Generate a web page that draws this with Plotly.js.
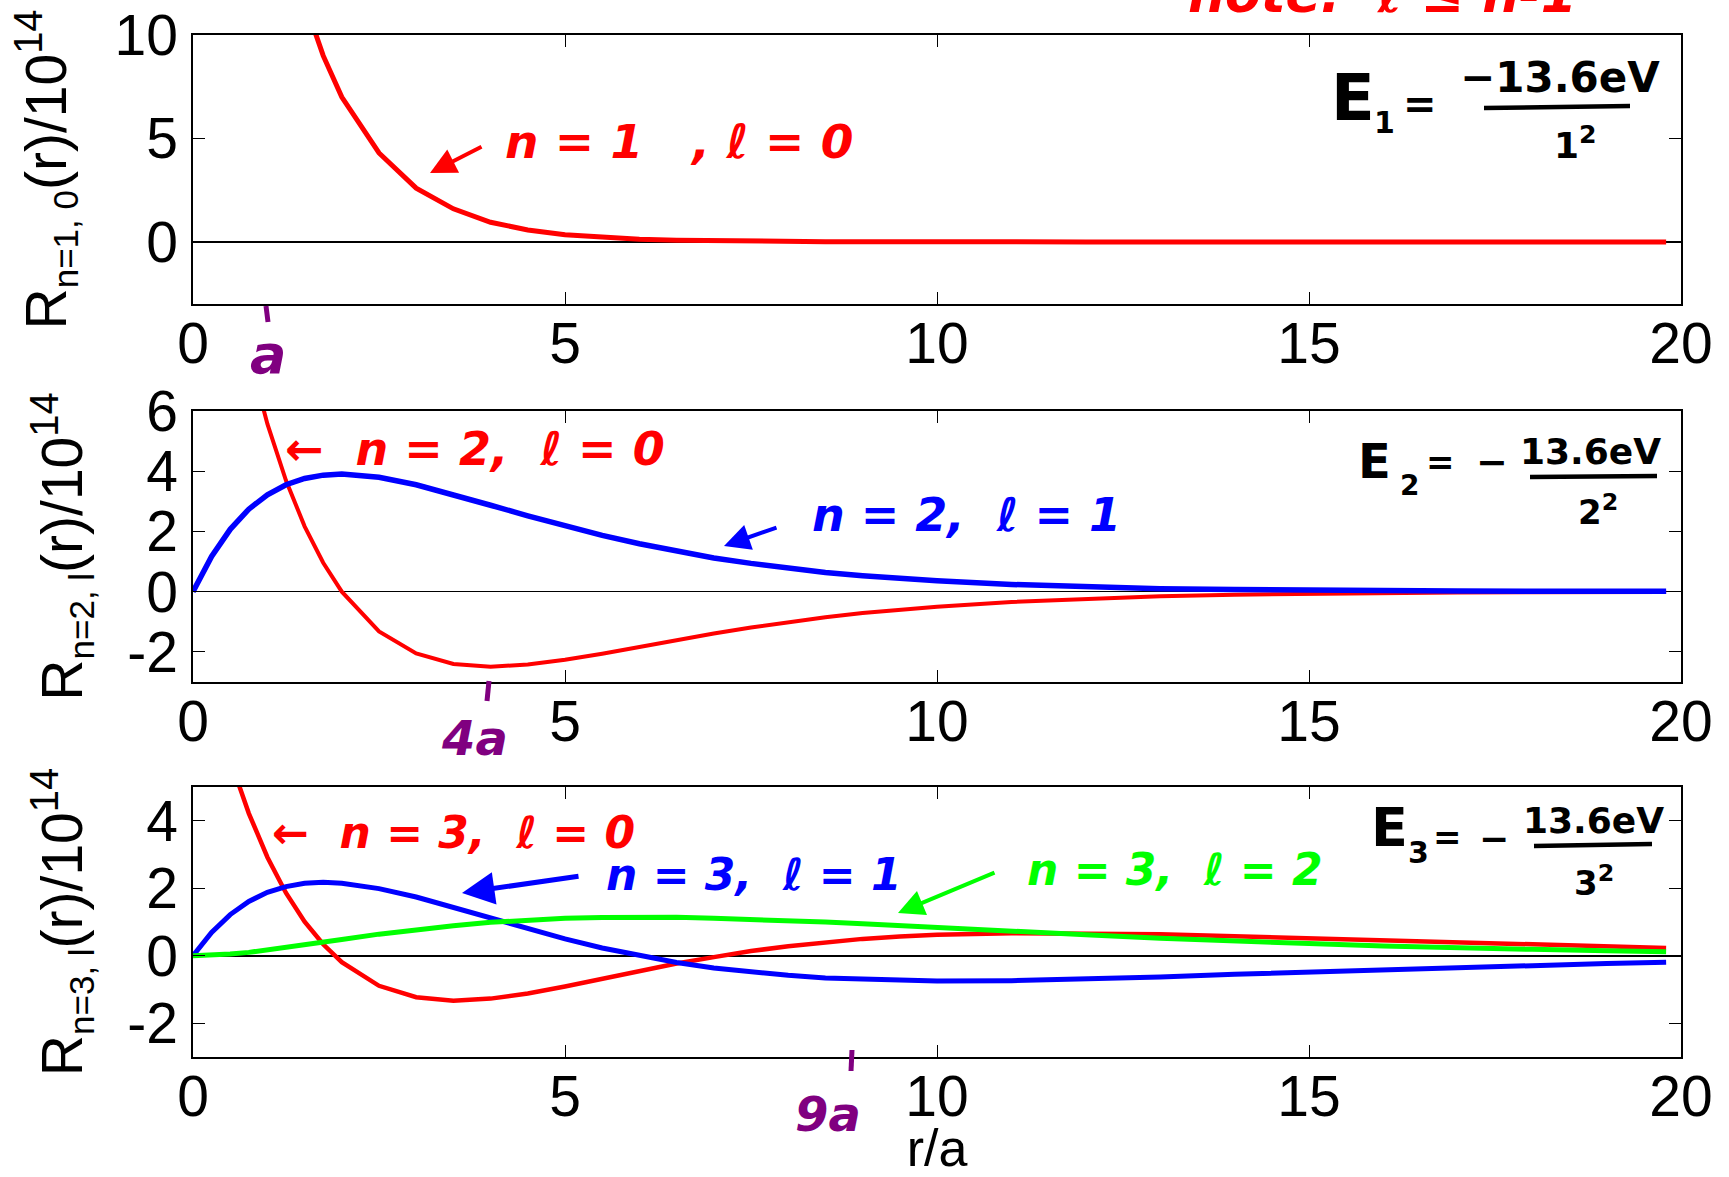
<!DOCTYPE html>
<html>
<head>
<meta charset="utf-8">
<script src="https://cdn.plot.ly/plotly-3.0.1.min.js"></script>
<style>html,body{margin:0;padding:0;background:#fff;}#chart{width:1729px;height:1177px;}</style>
</head>
<body>
<div id="chart"></div>
<script>
// ---- data ----
const r = [0, 0.25, 0.5, 0.75, 1, 1.25, 1.5, 1.75, 2, 2.5, 3, 3.5, 4, 4.5, 5, 5.5, 6, 6.5, 7, 7.5, 8, 8.5, 9, 9.5, 10, 11, 12, 13, 14, 15, 16, 17, 18, 19, 19.8];
const R10 = [52.0, 40.5, 31.5, 24.6, 19.1, 14.9, 11.6, 9.0, 7.0, 4.3, 2.6, 1.6, 0.95, 0.58, 0.35, 0.21, 0.13, 0.08, 0.05, 0.03, 0.02, 0.01, 0.01, 0, 0, 0, 0, 0, 0, 0, 0, 0, 0, 0, 0];
const R20 = [18.4, 14.2, 10.7, 7.9, 5.57, 3.69, 2.17, 0.96, 0, -1.32, -2.05, -2.40, -2.49, -2.42, -2.26, -2.06, -1.83, -1.60, -1.39, -1.19, -1.01, -0.85, -0.71, -0.60, -0.50, -0.34, -0.23, -0.15, -0.10, -0.07, -0.04, -0.03, -0.02, -0.01, -0.01];
const R21 = [0, 1.17, 2.07, 2.74, 3.22, 3.55, 3.76, 3.87, 3.91, 3.80, 3.55, 3.23, 2.87, 2.52, 2.18, 1.87, 1.59, 1.34, 1.12, 0.94, 0.78, 0.64, 0.53, 0.44, 0.36, 0.24, 0.16, 0.10, 0.07, 0.04, 0.03, 0.02, 0.01, 0.01, 0.01];
const R30 = [10.0, 7.71, 5.80, 4.22, 2.92, 1.86, 1.01, 0.34, -0.19, -0.89, -1.23, -1.33, -1.27, -1.12, -0.91, -0.68, -0.45, -0.23, -0.04, 0.14, 0.28, 0.40, 0.50, 0.57, 0.62, 0.67, 0.67, 0.64, 0.58, 0.52, 0.45, 0.38, 0.32, 0.27, 0.23];
const R31 = [0, 0.69, 1.22, 1.61, 1.88, 2.05, 2.15, 2.18, 2.15, 1.99, 1.74, 1.43, 1.11, 0.79, 0.50, 0.23, 0, -0.20, -0.36, -0.48, -0.58, -0.66, -0.70, -0.73, -0.75, -0.74, -0.69, -0.63, -0.55, -0.48, -0.41, -0.34, -0.28, -0.23, -0.19];
const R32 = [0, 0.01, 0.05, 0.10, 0.17, 0.24, 0.32, 0.40, 0.48, 0.64, 0.78, 0.89, 0.99, 1.06, 1.11, 1.13, 1.14, 1.14, 1.11, 1.08, 1.04, 1.00, 0.95, 0.89, 0.84, 0.73, 0.62, 0.52, 0.43, 0.36, 0.29, 0.23, 0.19, 0.15, 0.12];

const xTicks = [0, 5, 10, 15, 20];
const xTickText = ['0', '5', '10', '15', '20'];
const y1Ticks = [0, 5, 10];
const y1TickText = ['0', '5', '10'];
const y2Ticks = [-2, 0, 2, 4, 6];
const y2TickText = ['-2', '0', '2', '4', '6'];
const y3Ticks = [-2, 0, 2, 4];
const y3TickText = ['-2', '0', '2', '4'];

const yTitles = ['R<sub><span style="font-size:35px">n=1, 0</span></sub>(r)/10<sup>14</sup>',
                 'R<sub><span style="font-size:35px">n=2, l</span></sub>(r)/10<sup>14</sup>',
                 'R<sub><span style="font-size:35px">n=3, l</span></sub>(r)/10<sup>14</sup>'];
const xTitle = 'r/a';

const noteText = 'note:  ℓ ≤ n-1';
const labels = {
  n10: 'n = 1   , ℓ = 0',
  n20: '←  n = 2,  ℓ = 0',
  n21: 'n = 2,  ℓ = 1',
  n30: '←  n = 3,  ℓ = 0',
  n31: 'n = 3,  ℓ = 1',
  n32: 'n = 3,  ℓ = 2'
};
const energyNum = ['−13.6eV', '13.6eV', '13.6eV'];
const energyDen = ['1<sup>2</sup>', '2<sup>2</sup>', '3<sup>2</sup>'];
const energySub = ['1', '2', '3'];
const radiusMarks = ['a', '4a', '9a'];

// ---- styling / layout ----
const W = 1729, H = 1177, ML = 193, MR = 48, PW = W - ML - MR;
const px = v => (v - ML) / PW;
const py = v => 1 - v / H;
const RED = '#ff0000', BLUE = '#0000ff', GREEN = '#00ff00', PURPLE = '#800080';
const FONT = 'Liberation Sans, Arial, Helvetica, sans-serif';
const HAND = 'DejaVu Sans, sans-serif';

const traces = [
  {x: r, y: R10, xaxis: 'x', yaxis: 'y', mode: 'lines', line: {color: RED, width: 5}},
  {x: r, y: R20, xaxis: 'x2', yaxis: 'y2', mode: 'lines', line: {color: RED, width: 4}},
  {x: r, y: R21, xaxis: 'x2', yaxis: 'y2', mode: 'lines', line: {color: BLUE, width: 5.5}},
  {x: r, y: R30, xaxis: 'x3', yaxis: 'y3', mode: 'lines', line: {color: RED, width: 4.5}},
  {x: r, y: R31, xaxis: 'x3', yaxis: 'y3', mode: 'lines', line: {color: BLUE, width: 5}},
  {x: r, y: R32, xaxis: 'x3', yaxis: 'y3', mode: 'lines', line: {color: GREEN, width: 5}}
];

const axBase = {
  showline: true, linecolor: 'black', linewidth: 1.6, mirror: 'ticks',
  ticks: 'inside', ticklen: 12, tickwidth: 1, tickcolor: 'black',
  showgrid: false, zeroline: false, fixedrange: true,
  tickfont: {family: FONT, size: 57, color: 'black'}
};
const xAx = (anchor, extra) => Object.assign({}, axBase, {
  anchor: anchor, domain: [0, 1], range: [0, 20], tickmode: 'array',
  tickvals: xTicks, ticktext: xTickText, ticklabelstandoff: -11
}, extra || {});
const yAx = (anchor, dom, rng, tv, tt, title, standoff) => Object.assign({}, axBase, {
  anchor: anchor, domain: dom, range: rng, tickmode: 'array', tickvals: tv, ticktext: tt,
  zeroline: true, zerolinecolor: 'black', zerolinewidth: 1.5, ticklabelstandoff: 2,
  title: {text: title, font: {family: FONT, size: 57, color: 'black'}, standoff: standoff}
});

const ann = [];
function txt(t, x, y, size, color, o) {
  o = o || {};
  ann.push({
    text: t, xref: 'paper', yref: 'paper', x: px(x), y: py(y),
    xanchor: o.xa || 'center', yanchor: o.ya || 'middle', showarrow: false,
    font: {family: HAND, size: size, color: color, weight: o.w || 'bold', style: o.s || 'normal'}
  });
}
function arrow(hx, hy, tx, ty, color, width) {
  ann.push({
    text: '', xref: 'paper', yref: 'paper', x: px(hx), y: py(hy),
    ax: tx - hx, ay: ty - hy, showarrow: true, arrowhead: 2, arrowsize: 1.3,
    arrowwidth: width, arrowcolor: color, standoff: 0, startstandoff: 0
  });
}

// top note (cut by the page top, as in the reference)
txt(noteText, 1382, -6, 52, RED, {s: 'italic'});

// panel 1
arrow(430, 173, 483, 146, RED, 4);
txt(labels.n10, 503, 142, 47, RED, {xa: 'left', s: 'italic'});
// panel 2
txt(labels.n20, 283, 449, 46, RED, {xa: 'left', s: 'italic'});
arrow(724, 546, 778, 527, BLUE, 4);
txt(labels.n21, 810, 515, 46, BLUE, {xa: 'left', s: 'italic'});
// panel 3
txt(labels.n30, 270, 832, 44, RED, {xa: 'left', s: 'italic'});
arrow(462, 893, 580, 876, BLUE, 5);
txt(labels.n31, 604, 874, 44, BLUE, {xa: 'left', s: 'italic'});
arrow(898, 913, 996, 872, GREEN, 4);
txt(labels.n32, 1025, 869, 44, GREEN, {xa: 'left', s: 'italic'});

// energy formulas
const shapes = [];
function bar(x0, y0, x1, y1, color, w) {
  shapes.push({type: 'line', xref: 'paper', yref: 'paper', x0: px(x0), y0: py(y0), x1: px(x1), y1: py(y1),
               line: {color: color, width: w}});
}
// E1
txt('E', 1353, 98, 64, 'black');
txt(energySub[0], 1384, 122, 30, 'black');
txt('=', 1420, 104, 40, 'black');
txt(energyNum[0], 1560, 77, 42, 'black');
bar(1484, 108, 1630, 106, 'black', 4.5);
txt(energyDen[0], 1575, 143, 36, 'black');
// E2
txt('E', 1374, 461, 48, 'black');
txt(energySub[1], 1409, 485, 28, 'black');
txt('=', 1440, 462, 34, 'black');
txt('−', 1492, 462, 38, 'black');
txt(energyNum[1], 1590, 452, 36, 'black');
bar(1530, 477, 1657, 476, 'black', 4.5);
txt(energyDen[1], 1598, 510, 34, 'black');
// E3
txt('E', 1389, 828, 54, 'black');
txt(energySub[2], 1418, 852, 30, 'black');
txt('=', 1447, 837, 34, 'black');
txt('−', 1494, 838, 36, 'black');
txt(energyNum[2], 1593, 820, 36, 'black');
bar(1534, 846, 1652, 844, 'black', 4.5);
txt(energyDen[2], 1594, 881, 34, 'black');

// purple radius marks
bar(266, 306, 268, 322, PURPLE, 5);
txt(radiusMarks[0], 268, 354, 54, PURPLE, {s: 'italic'});
bar(489, 681, 487, 701, PURPLE, 5);
txt(radiusMarks[1], 474, 738, 48, PURPLE, {s: 'italic'});
bar(852, 1050, 851, 1071, PURPLE, 5);
txt(radiusMarks[2], 828, 1114, 48, PURPLE, {s: 'italic'});

const layout = {
  width: W, height: H,
  margin: {l: ML, r: MR, t: 0, b: 0, pad: 0},
  paper_bgcolor: 'white', plot_bgcolor: 'white',
  showlegend: false,
  font: {family: FONT, color: 'black'},
  xaxis: xAx('y'),
  yaxis: yAx('x', [py(304), py(35)], [-3, 10], y1Ticks, y1TickText, yTitles[0], 29),
  xaxis2: xAx('y2'),
  yaxis2: yAx('x2', [py(682), py(411)], [-3, 6], y2Ticks, y2TickText, yTitles[1], 26),
  xaxis3: xAx('y3', {title: {text: xTitle, font: {family: FONT, size: 52, color: 'black'}, standoff: 34}}),
  yaxis3: yAx('x3', [py(1057), py(787)], [-3, 5], y3Ticks, y3TickText, yTitles[2], 26),
  annotations: ann,
  shapes: shapes
};

Plotly.newPlot('chart', traces, layout, {displayModeBar: false, staticPlot: true});
</script>
</body>
</html>
